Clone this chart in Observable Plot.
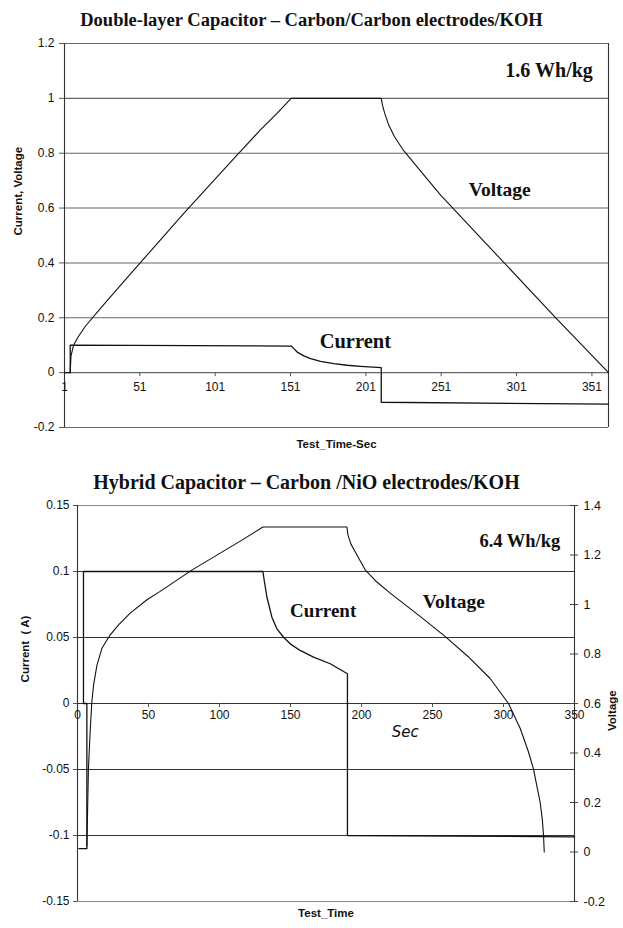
<!DOCTYPE html>
<html><head><meta charset="utf-8">
<script src="https://cdn.jsdelivr.net/npm/d3@7"></script>
<script src="https://cdn.jsdelivr.net/npm/@observablehq/plot@0.6"></script>
<style>
body{margin:0;background:#fff;width:623px;}
.title{font-family:"Liberation Serif","Times New Roman",serif;font-weight:bold;font-size:18.5px;text-align:center;color:#111;white-space:nowrap;}
</style></head><body>
<div class="title" style="height:36px;line-height:40px;">Double-layer Capacitor – Carbon/Carbon electrodes/KOH</div>
<div id="c1"></div>
<div class="title" style="height:40px;line-height:50px;font-size:20px;padding-right:10px;">Hybrid Capacitor – Carbon /NiO electrodes/KOH</div>
<div id="c2"></div>
<script>
// ---------- Double-layer capacitor (top) ----------
const dlXDomain = [1, 362];
const dlYDomain = [-0.2, 1.2];
const dlYTicks = [-0.2, 0, 0.2, 0.4, 0.6, 0.8, 1, 1.2];
const dlXTicks = [1, 51, 101, 151, 201, 251, 301, 351];
const dlCurrentTime = [1, 4.8, 4.8, 151.4, 153.2, 155.4, 159.8, 164.3, 170.9, 179.7, 188.6, 197.5, 211.2, 211.2, 362];
const dlCurrent = [0, 0, 0.1, 0.097, 0.0875, 0.075, 0.061, 0.051, 0.041, 0.033, 0.027, 0.023, 0.018, -0.108, -0.115];
const dlVoltageTime = [4.8, 5.3, 7, 10, 15, 25, 40, 60, 80, 100, 115, 131, 142, 151.4, 211.2, 212, 213.5, 216, 220, 226, 235, 250.6, 327, 362];
const dlVoltage = [0, 0.06, 0.1, 0.13, 0.17, 0.235, 0.33, 0.455, 0.58, 0.7, 0.79, 0.885, 0.945, 1.0, 1.0, 0.975, 0.945, 0.905, 0.86, 0.81, 0.75, 0.647, 0.2, 0];

// ---------- Hybrid capacitor (bottom) ----------
const hyXDomain = [0, 350];
const hyCDomain = [-0.15, 0.15];
const hyVDomain = [-0.2, 1.4];
const hyCTicks = [-0.15, -0.1, -0.05, 0, 0.05, 0.1, 0.15];
const hyVTicks = [-0.2, 0, 0.2, 0.4, 0.6, 0.8, 1, 1.2, 1.4];
const hyXTicks = [0, 50, 100, 150, 200, 250, 300, 350];
const hyCurrentTime = [1, 6.6, 6.6, 4.2, 4.2, 130.6, 131.5, 133.4, 136.9, 140.4, 145.1, 149.8, 156.8, 166.2, 178, 190.1, 190.1, 350];
const hyCurrent = [-0.11, -0.11, 0, 0, 0.1, 0.1, 0.0932, 0.0805, 0.0654, 0.0566, 0.0502, 0.0452, 0.0402, 0.0351, 0.0301, 0.0225, -0.1, -0.101];
const hyVoltageTime = [6.6, 7.7, 8.9, 10.1, 11.3, 13.7, 17.2, 22.5, 28.9, 37.1, 48.9, 58.2, 80.8, 114.6, 130.6, 189.7, 190.5, 192.5, 196.8, 202.6, 210, 220.2, 241.3, 259, 275, 290.6, 303.5, 311.8, 317.6, 321.1, 323.9, 325.8, 327.3, 328.2, 328.7];
const hyVoltage = [0.025, 0.336, 0.485, 0.607, 0.674, 0.755, 0.823, 0.873, 0.918, 0.965, 1.019, 1.053, 1.14, 1.256, 1.313, 1.313, 1.28, 1.245, 1.2, 1.14, 1.095, 1.046, 0.952, 0.87, 0.79, 0.701, 0.6, 0.499, 0.404, 0.336, 0.255, 0.201, 0.133, 0.066, 0];

const fmt = d => String(+(+d).toFixed(3));
const sans = "Liberation Sans, Arial, sans-serif";
const serif = "Liberation Serif, Times New Roman, serif";

// top chart
const dlCurrentData = dlCurrentTime.map((t, i) => ({t, v: dlCurrent[i]}));
const dlVoltageData = dlVoltageTime.map((t, i) => ({t, v: dlVoltage[i]}));

const chartTop = Plot.plot({
  width: 623, height: 421,
  marginTop: 7, marginBottom: 30, marginLeft: 64, marginRight: 15,
  style: {fontFamily: sans, fontSize: "12px", background: "white", color: "#111"},
  x: {domain: dlXDomain, axis: null},
  y: {domain: dlYDomain, axis: null},
  marks: [
    Plot.ruleY(dlYTicks, {stroke: "#666", strokeWidth: 1.1}),
    Plot.ruleX(dlXDomain, {stroke: "#333", strokeWidth: 1.1}),
    Plot.axisY(dlYTicks, {tickSize: 5, tickPadding: 5, tickFormat: fmt, label: null, stroke: "#555", fontSize: 12}),
    Plot.ruleX(dlXTicks.slice(1), {x: d => d, y1: 0, y2: 0, insetBottom: -4, stroke: "#555"}),
    Plot.text(dlXTicks, {x: d => d, y: 0, dy: 15, text: d => fmt(d), fontSize: 12}),
    Plot.line(dlCurrentData, {x: "t", y: "v", stroke: "#111", strokeWidth: 1.3}),
    Plot.line(dlVoltageData, {x: "t", y: "v", stroke: "#111", strokeWidth: 1.1}),
    Plot.text(["1.6 Wh/kg"], {x: 351.6, y: 1.103, text: d => d, textAnchor: "end", fontFamily: serif, fontWeight: "bold", fontSize: 20}),
    Plot.text(["Voltage"], {x: 289.8, y: 0.665, text: d => d, fontFamily: serif, fontWeight: "bold", fontSize: 19.5}),
    Plot.text(["Current"], {x: 194, y: 0.114, text: d => d, fontFamily: serif, fontWeight: "bold", fontSize: 20.5}),
    Plot.text(["Current, Voltage"], {frameAnchor: "left", rotate: -90, dx: -46, text: d => d, fontWeight: "bold", fontSize: 11.5}),
    Plot.text(["Test_Time-Sec"], {frameAnchor: "bottom", dy: 20, text: d => d, fontWeight: "bold", fontSize: 11.5})
  ]
});
document.getElementById("c1").append(chartTop);

// bottom chart
const vToC = v => (v - hyVDomain[0]) / (hyVDomain[1] - hyVDomain[0]) * (hyCDomain[1] - hyCDomain[0]) + hyCDomain[0];
const cToV = c => (c - hyCDomain[0]) / (hyCDomain[1] - hyCDomain[0]) * (hyVDomain[1] - hyVDomain[0]) + hyVDomain[0];
const hyCurrentData = hyCurrentTime.map((t, i) => ({t, c: hyCurrent[i]}));
const hyVoltageData = hyVoltageTime.map((t, i) => ({t, c: vToC(hyVoltage[i])}));
const hyVTickPos = hyVTicks.map(vToC);
const innerC = hyCTicks.filter(d => d > hyCDomain[0] && d < hyCDomain[1]);

const chartBottom = Plot.plot({
  width: 623, height: 431,
  marginTop: 8, marginBottom: 27, marginLeft: 77, marginRight: 49,
  style: {fontFamily: sans, fontSize: "12px", background: "white", color: "#111"},
  x: {domain: hyXDomain, axis: null},
  y: {domain: hyCDomain, axis: null},
  marks: [
    Plot.ruleY(hyCDomain, {stroke: "#888", strokeWidth: 1.1}),
    Plot.ruleY(innerC, {stroke: "#333", strokeWidth: 1}),
    Plot.ruleX(hyXDomain, {stroke: "#333", strokeWidth: 1.1}),
    Plot.axisY(hyCTicks, {tickSize: 4, tickPadding: 4, tickFormat: fmt, label: null, stroke: "#555", fontSize: 12}),
    Plot.ruleY(hyVTickPos, {x1: hyXDomain[1], x2: hyXDomain[1], insetLeft: -4, insetRight: -4, stroke: "#444"}),
    Plot.axisY(hyVTickPos, {anchor: "right", tickSize: 0, tickPadding: 9, tickFormat: c => fmt(cToV(c)), label: null, fontSize: 12.5}),
    Plot.ruleX(hyXTicks.slice(1, -1), {x: d => d, y1: 0, y2: 0, insetBottom: -4, stroke: "#555"}),
    Plot.text(hyXTicks, {x: d => d, y: 0, dy: 12, text: d => fmt(d), fontSize: 12}),
    Plot.line(hyCurrentData, {x: "t", y: "c", stroke: "#111", strokeWidth: 1.3}),
    Plot.line(hyVoltageData, {x: "t", y: "c", stroke: "#111", strokeWidth: 1.1}),
    Plot.text(["6.4 Wh/kg"], {x: 340, y: 0.1227, text: d => d, textAnchor: "end", fontFamily: serif, fontWeight: "bold", fontSize: 18.5}),
    Plot.text(["Current"], {x: 173, y: 0.0705, text: d => d, fontFamily: serif, fontWeight: "bold", fontSize: 19}),
    Plot.text(["Voltage"], {x: 265, y: 0.077, text: d => d, fontFamily: serif, fontWeight: "bold", fontSize: 19.5}),
    Plot.text(["Sec"], {x: 230.8, y: -0.022, text: d => d, fontFamily: "DejaVu Sans, sans-serif", fontStyle: "italic", fontSize: 15}),
    Plot.text(["Current  ( A)"], {frameAnchor: "left", y: 0.016, rotate: -90, dx: -52, text: d => d, fontWeight: "bold", fontSize: 11.5}),
    Plot.text(["Voltage"], {frameAnchor: "right", y: 0.01, rotate: -90, dx: 38, text: d => d, fontWeight: "bold", fontSize: 11.5}),
    Plot.text(["Test_Time"], {frameAnchor: "bottom", dy: 15, text: d => d, fontWeight: "bold", fontSize: 11.5})
  ]
});
document.getElementById("c2").append(chartBottom);
</script>
</body></html>
